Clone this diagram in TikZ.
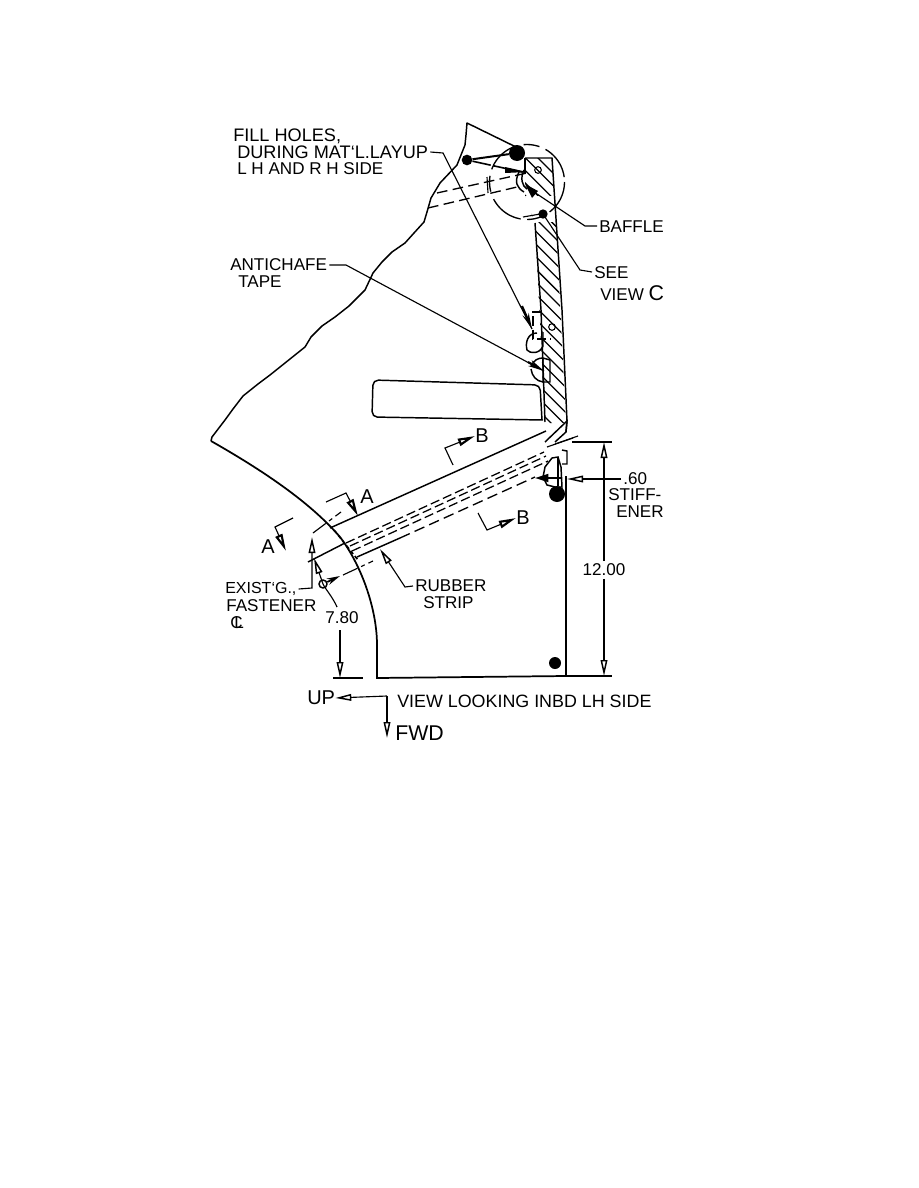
\documentclass[tikz,border=0pt]{standalone}
\usepackage{fontspec}
\setmainfont{Liberation Sans}
\usetikzlibrary{arrows.meta}
\tikzset{
 ink/.style={line width=1.1pt,black},
 thin ink/.style={line width=.85pt,black},
 dimtip/.style={-{Triangle[open,length=12pt,width=5pt,line width=1.1pt]}},
 heavytip/.style={-{Triangle[open,length=13pt,width=5.5pt,line width=1.6pt]}},
 lbl/.style={inner sep=0pt,font=\fontsize{12.8}{13}\selectfont,text=black},
 seclbl/.style={inner sep=0pt,font=\fontsize{15}{15}\selectfont,text=black},
 hid/.style={line width=1pt,dash pattern=on 8pt off 4pt},
 hid2/.style={line width=.95pt,dash pattern=on 7pt off 3pt},
 dashdot/.style={line width=.85pt,dash pattern=on 12pt off 3pt on 3pt off 3pt},
 dot/.style={circle,fill=black,inner sep=0pt},
 hole/.style={circle,draw=black,line width=.8pt,inner sep=0pt,minimum size=5pt},
}
\begin{document}
\begin{tikzpicture}[x=.75pt,y=-.75pt]
\useasboundingbox (0,0) rectangle (918,1188);
\fill[white] (0,0) rectangle (918,1188);
% --- outline of the skin
\draw[ink,line join=round] (516,147) -- (467,123) -- (466,135) -- (465,145) -- (457,165) -- (440,183) -- (431,198) -- (427,212) -- (424,222) -- (414,233) -- (405,243) -- (392,252) -- (382,262) -- (373,273) -- (365,290) -- (349,306) -- (335,317) -- (322,326) -- (311,337) -- (305,347) -- (290,359) -- (270,375) -- (258,384) -- (243,396) -- (233,409) -- (225,420) -- (212,437) -- (211,441);
\draw[line width=1.3pt] (211,441) .. controls (262,470) and (310,502) .. (340,537) .. controls (362,566) and (377,610) .. (377,645) -- (377,678) -- (566,676);
\draw[ink] (566,476) -- (566,676);
% --- hatched panel
\begin{scope}
\clip (525,158) -- (552,158) -- (556,223) -- (566,423) -- (545,423) -- (535,223) -- (525,196) -- cycle;
\foreach \k in {0,...,24}{
  \draw[line width=.95pt] (515,{135+\k*12.6}) -- (575,{195+\k*12.6});
}
\fill[white] (520,196) rectangle (560,222);
\end{scope}
\draw[ink] (525,158) -- (552,158) -- (562,310) -- (567,421) -- (566,432);
\draw[ink] (525,158) -- (525,174);
\draw[ink] (535,223) -- (541,310) -- (545,422);
% --- tab
\draw[ink,rounded corners=4pt] (543,420) -- (372,417) -- (373,380) -- (540,385) -- (542,420);
% --- view C circle
\draw[line width=1pt,dash pattern=on 26pt off 6pt on 12pt off 5pt] (527,182) circle (37.5);
\node[hole] (holeC) at (538,170) {};
\node[hole] (holeD) at (552,327) {};
% --- top strip (hidden)
\coordinate (ts1) at (437,193); \coordinate (ts2) at (527,173);
\coordinate (ts3) at (428,208); \coordinate (ts4) at (517,187);
\draw[hid] (ts1) -- (ts2);
\draw[hid] (ts3) -- (ts4);
\draw[thin ink] (487,177) -- (488,193);
\draw[ink] (519,172) .. controls (514,182) and (517,188) .. (524,192);
\draw[ink] (524,170) .. controls (520,178) and (522,186) .. (527,189);
% --- fill holes
\node[dot,minimum size=12pt] (hA) at (517,153) {};
\node[dot,minimum size=8pt] (hB) at (467,160) {};
\draw[line width=1.5pt] (hB) -- (hA);
\coordinate (hC) at (522,172);
\draw[line width=1.2pt,dash pattern=on 14pt off 2pt] (hB) -- (hC);
\fill (505,167) -- (527,172) -- (505,173) -- cycle;
% --- mid hidden box and blobs
\draw[hid2] (542,312) -- (533,312) -- (533,339) -- (551,339);
\draw[ink] (537,333) .. controls (528,333) and (525,342) .. (527,350) .. controls (530,354) and (540,354) .. (543,346) -- (543,332);
\draw[ink] (543,358) -- (550,360) -- (550,382) -- (543,382) -- (543,358);
\draw[ink] (531,369) .. controls (532,376) and (536,381) .. (543,382);
\draw[ink] (531,366) .. controls (534,360) and (538,358) .. (543,358);
% --- section strip
\coordinate (sa) at (330,528); \coordinate (sb) at (546,431);
\coordinate (sc) at (357,557); \coordinate (sd) at (400,538);
\draw[ink] (sa) -- (sb);
\draw[ink] (sc) -- (sd);
\draw[hid] (400,538) -- (535,477);
\draw[hid2] (346,543) -- (544,452);
\draw[hid2] (350,546) -- (546,456);
\draw[hid2] (352,551) -- (548,461);
\draw[line width=1.2pt,dash pattern=on 3pt off 2pt] (334,530) -- (358,560);
\draw[ink] (308,562) -- (345,543);
\draw[ink] (545,442) -- (567,421) -- (566,432) -- (555,442);
\draw[thin ink] (555,444) -- (578,436);
\draw[thin ink] (547,447) -- (573,438);
\draw[ink] (562,450) -- (567,451) -- (567,464) -- (562,464);
\draw[ink] (545,467) -- (552,458) -- (558,457) -- (561,467) -- (562,487) -- (555,487) -- (547,485) -- (543,477) -- cycle;
\draw[thin ink] (558,458) -- (558,486);
\node[dot,minimum size=12pt] (dS) at (557,494) {};
\node[dot,minimum size=9pt] (dB) at (555,663) {};
% --- section marks
\node[seclbl] (lAr) at (367,497) {A};
\node[seclbl] (lAl) at (268,547) {A};
\node[seclbl] (lBt) at (482,436) {B};
\node[seclbl] (lBb) at (523,518) {B};
\coordinate (a1) at (326,502); \coordinate (a2) at (346,493); \coordinate (a3) at (358,516);
\draw[thin ink,heavytip] (a1) -- (a2) -- (a3);
\coordinate (a4) at (293,518); \coordinate (a5) at (275,527); \coordinate (a6) at (286,551);
\draw[thin ink,heavytip] (a4) -- (a5) -- (a6);
\coordinate (b1) at (453,465); \coordinate (b2) at (445,448);
\draw[thin ink,heavytip] (b1) -- (b2) -- (lBt.west);
\coordinate (b3) at (478,513); \coordinate (b4) at (487,530);
\draw[thin ink,heavytip] (b3) -- (b4) -- (lBb.west);
% --- labels
\node[lbl,anchor=west,font=\fontsize{13.6}{14}\selectfont] (fill1) at (233,136) {FILL HOLES,};
\node[lbl,anchor=west,font=\fontsize{13.6}{14}\selectfont] (fill2) at (237,152) {DURING MAT`L.LAYUP};
\node[lbl,anchor=west] (fill3) at (237,169) {L H AND R H SIDE};
\node[lbl,anchor=west] (anti1) at (230,265) {ANTICHAFE};
\node[lbl,anchor=west] (anti2) at (238,282) {TAPE};
\node[lbl,anchor=west] (baf) at (599,227) {BAFFLE};
\node[lbl,anchor=west] (see) at (594,273) {SEE};
\node[lbl,anchor=west] (viewc) at (600,293) {VIEW {\fontsize{16}{16}\selectfont C}};
\node[lbl,anchor=west] (sixty) at (623,479) {.60};
\node[lbl,anchor=west] (stiff) at (608,495) {STIFF-};
\node[lbl,anchor=west] (ener) at (616,512) {ENER};
\node[lbl,fill=white,inner sep=2pt] (twelve) at (604,570) {12.00};
\node[lbl,anchor=west,font=\fontsize{12}{13}\selectfont] (ex1) at (225,589) {EXIST`G.,};
\node[lbl,anchor=west] (ex2) at (226,606) {FASTENER};
\node[lbl,anchor=west] (cl) at (230,623) {\rlap{C}\hspace{3pt}L};
\node[lbl,anchor=west] (rub1) at (415,586) {RUBBER};
\node[lbl,anchor=west] (rub2) at (423,603) {STRIP};
\node[lbl] (seven) at (342,618) {7.80};
\node[seclbl,anchor=west] (up) at (307,698) {UP};
\node[seclbl,font=\fontsize{16}{16}\selectfont,anchor=west] (fwd) at (395,733) {FWD};
\node[lbl,anchor=west,font=\fontsize{13.4}{14}\selectfont] (vw) at (397,701) {VIEW LOOKING INBD LH SIDE};
% --- leaders
\coordinate (f1) at (443,153); \coordinate (ftip) at (532,329);
\draw[thin ink] (fill2.east) ++(2,0) -- (f1) -- (ftip);
\draw[line width=1.6pt,-{Stealth[length=12pt,width=5pt]}] (522,306) -- (ftip);
\coordinate (a7) at (346,265); \coordinate (atip) at (544,371);
\draw[thin ink] (anti1.east) ++(2,0) -- (a7) -- (atip);
\draw[line width=1.6pt,-{Stealth[length=12pt,width=5pt]}] (528,362) -- (atip);
\coordinate (bf1) at (585,226); \coordinate (bftip) at (531,190);
\draw[thin ink] (baf.west) ++(-2,-1) -- (bf1) -- (bftip);
\fill (525,184) -- (538,191) -- (532,198) -- cycle;
\coordinate (se1) at (580,270); \coordinate (setip) at (543,214);
\draw[thin ink] (see.west) ++(-2,-1) -- (se1) -- (setip);
\draw[line width=.85pt] (523,217) -- (546,213);
\node[dot,minimum size=7pt] at (setip) {};
% --- rubber strip
\coordinate (r1) at (405,587); \coordinate (rtip) at (380,549);
\draw[thin ink,dimtip] (rub1.west) ++(-2,0) -- (r1) -- (rtip);
% --- fastener / 7.80
\coordinate (e1) at (312,588); \coordinate (e2) at (312,537);
\draw[thin ink,dimtip] (ex1.east) ++(2,0) -- (e1) -- (e2);
\node[circle,draw=black,line width=1.1pt,inner sep=0pt,minimum size=6pt] (fast) at (323,584) {};
\draw[line width=1.3pt,-{Stealth[length=10pt,width=5pt]}] (fast) -- (340,576);
\draw[dashdot] (343,575) -- (373,561);
\draw[dashdot] (313,533) -- (341,512);
\coordinate (arcTop) at (314,558);
\draw[thin ink,dimtip] (337,607) .. controls (332,596) and (326,590) .. (323,584) -- (arcTop);
\coordinate (dn1) at (340,630); \coordinate (dn2) at (340,678);
\draw[thin ink,dimtip] (dn1) -- (dn2);
\draw[ink] (333,678) -- (363,678);
% --- 12.00 and .60
\coordinate (t1) at (572,442); \coordinate (t2) at (612,442);
\coordinate (tb1) at (566,676); \coordinate (tb2) at (612,676);
\draw[thin ink] (t1) -- (t2);
\draw[thin ink] (tb1) -- (tb2);
\coordinate (tu) at (604,442); \coordinate (td) at (604,676);
\draw[thin ink,dimtip] (twelve) -- (tu);
\draw[thin ink,dimtip] (twelve) -- (td);
\coordinate (s0) at (621,479); \coordinate (s1) at (567,479);
\draw[thin ink,dimtip] (s0) -- (s1);
\coordinate (s3) at (561,478);
\draw[line width=1.3pt,{Triangle[length=10pt,width=6pt]}-] (535,478) -- (s3);
% --- view direction
\coordinate (corner) at (387,696); \coordinate (fwt) at (387,738);
\draw[thin ink,dimtip] (corner) -- (up.east);
\draw[thin ink,dimtip] (corner) -- (fwt);
\end{tikzpicture}
\end{document}
